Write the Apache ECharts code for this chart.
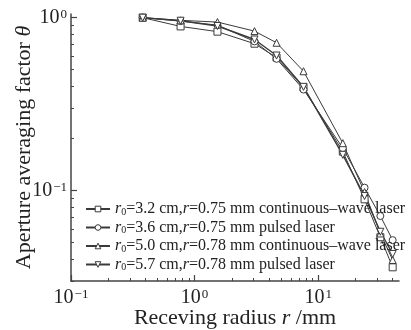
<!DOCTYPE html>
<html>
<head>
<meta charset="utf-8">
<script src="https://cdn.jsdelivr.net/npm/echarts@6/dist/echarts.min.js"></script>
<style>html,body{margin:0;padding:0;background:#fff;}#c{width:411px;height:330px;}</style>
</head>
<body>
<div id="c"></div>
<script>
// Receiving radius (mm)
var radius = [0.38, 0.77, 1.53, 3.05, 4.6, 7.6, 15.8, 23.7, 31.8, 40];
// Aperture averaging factor for each case
var sqVals  = [1.0, 0.89, 0.83, 0.707, 0.588, 0.394, 0.168, 0.089, 0.0537, 0.036];
var ciVals  = [1.0, 0.955, 0.905, 0.729, 0.578, 0.384, 0.176, 0.104, 0.0713, 0.0517];
var trVals  = [1.0, 0.965, 0.943, 0.836, 0.716, 0.49, 0.188, 0.098, 0.0565, 0.0397];
var itVals  = [1.0, 0.96, 0.895, 0.748, 0.604, 0.398, 0.161, 0.093, 0.0578, 0.043];
var seriesNames = [
  'r0=3.2 cm,r=0.75 mm continuous–wave laser',
  'r0=3.6 cm,r=0.75 mm pulsed laser',
  'r0=5.0 cm,r=0.78 mm continuous–wave laser',
  'r0=5.7 cm,r=0.78 mm pulsed laser'
];
var legendText = [
  '{i|r}{sub|0}=3.2 cm,{i|r}=0.75 mm continuous–wave laser',
  '{i|r}{sub|0}=3.6 cm,{i|r}=0.75 mm pulsed laser',
  '{i|r}{sub|0}=5.0 cm,{i|r}=0.78 mm continuous–wave laser',
  '{i|r}{sub|0}=5.7 cm,{i|r}=0.78 mm pulsed laser'
];
// Tick values
var xMajorTicks = [0.1, 1, 10];
var xMinorTicks = [0.2, 0.3, 0.4, 0.5, 0.6, 0.7, 0.8, 0.9, 2, 3, 4, 5, 6, 7, 8, 9, 20, 30, 40];
var yMajorTicks = [0.1, 1];
var yMinorTicks = [0.03, 0.04, 0.05, 0.06, 0.07, 0.08, 0.09, 0.2, 0.3, 0.4, 0.5, 0.6, 0.7, 0.8, 0.9];

var FONT = '"Liberation Serif", "DejaVu Serif", serif';
var LINE = '#3a3a3a';
var AX = '#444';

function pairs(vals) { return radius.map(function (r, i) { return [r, vals[i]]; }); }
function powLabel(v) {
  var l = Math.log(v) / Math.LN10;
  var e = Math.round(l);
  if (Math.abs(l - e) > 1e-6) return '';
  return '10{sup|' + (e < 0 ? '−' + (-e) : e) + '}';
}
function mk(name, vals, symbol, rot, w) {
  return {
    name: name, type: 'line', data: pairs(vals),
    symbol: symbol, symbolSize: 7, symbolRotate: rot,
    lineStyle: { color: LINE, width: w },
    itemStyle: { color: '#fff', borderColor: LINE, borderWidth: 1 },
    emphasis: { disabled: true }, animation: false
  };
}
var supRich = { sup: { fontFamily: FONT, fontSize: 13, verticalAlign: 'top', lineHeight: 10, padding: [0, 0, 0, 1] } };
function mainAxis(pos, min, max, major, name, gap, margin) {
  return {
    type: 'log', logBase: 10, min: min, max: max, position: pos,
    name: name, nameLocation: 'middle', nameGap: gap, nameMoveOverlap: false,
    nameTextStyle: { fontFamily: FONT, fontSize: 22, color: '#222',
      rich: { i: { fontFamily: FONT, fontSize: 22, fontStyle: 'italic' } } },
    axisLine: { lineStyle: { color: AX, width: 1.5 } },
    axisTick: { inside: true, length: 6, customValues: major, lineStyle: { color: AX, width: 1.2 } },
    splitLine: { show: false },
    axisLabel: { margin: margin, customValues: major, fontFamily: FONT, fontSize: 20, color: '#222',
      formatter: powLabel, rich: supRich }
  };
}
function minorAxis(pos, min, max, minor) {
  return {
    type: 'log', logBase: 10, min: min, max: max, position: pos,
    axisLine: { show: false },
    axisTick: { inside: true, length: 3, customValues: minor, lineStyle: { color: AX, width: 1 } },
    axisLabel: { show: false }, splitLine: { show: false }
  };
}
var chart = echarts.init(document.getElementById('c'), null, { renderer: 'canvas' });
chart.setOption({
  backgroundColor: '#fff',
  animation: false,
  grid: { left: 71, right: 12, top: 14, bottom: 49, containLabel: false, outerBoundsMode: 'none' },
  legend: {
    orient: 'vertical', left: 80, top: 196, itemGap: 2.5, itemWidth: 24, itemHeight: 7,
    data: seriesNames,
    itemStyle: { color: '#fff', borderColor: LINE, borderWidth: 1 },
    formatter: function (n) { return legendText[seriesNames.indexOf(n)]; },
    textStyle: {
      fontFamily: FONT, fontSize: 16, color: '#222', lineHeight: 16,
      rich: {
        i: { fontFamily: FONT, fontSize: 16, fontStyle: 'italic', lineHeight: 16 },
        sub: { fontFamily: FONT, fontSize: 10, verticalAlign: 'bottom', lineHeight: 10 }
      }
    }
  },
  xAxis: [
    mainAxis('bottom', 0.1, 45, xMajorTicks, 'Receving radius {i|r} /mm', 26, 7),
    minorAxis('bottom', 0.1, 45, xMinorTicks)
  ],
  yAxis: [
    mainAxis('left', 0.03, 1.05, yMajorTicks, 'Aperture averaging factor {i|θ}', 36, 4),
    minorAxis('left', 0.03, 1.05, yMinorTicks)
  ],
  series: [
    mk(seriesNames[0], sqVals, 'rect', 0, 1),
    mk(seriesNames[1], ciVals, 'circle', 0, 1),
    mk(seriesNames[2], trVals, 'triangle', 0, 1),
    mk(seriesNames[3], itVals, 'triangle', 180, 1.4)
  ]
});
</script>
</body>
</html>
